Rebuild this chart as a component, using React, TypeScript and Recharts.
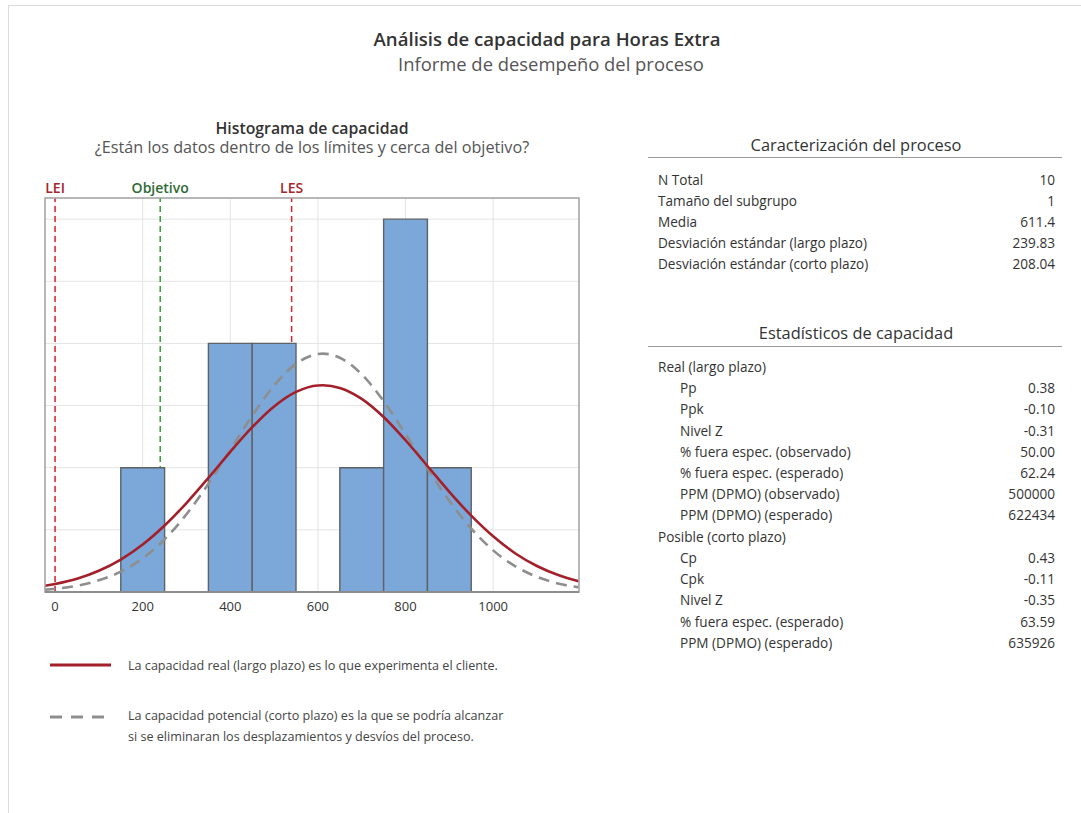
import React from "react";
import {
  ComposedChart,
  Line,
  XAxis,
  YAxis,
  CartesianGrid,
  ReferenceArea,
  ReferenceLine,
} from "recharts";

// ---------- data ----------
const binStarts = [150, 350, 450, 650, 750, 850];
const binEnds = [250, 450, 550, 750, 850, 950];
const binCounts = [1, 2, 2, 1, 3, 1];

const curveX = [
  -25, 0, 50, 100, 150, 200, 250, 300, 350, 400, 450, 500, 550, 600, 611.4,
  650, 700, 750, 800, 850, 900, 950, 1000, 1050, 1100, 1150, 1195,
];
const longTermCurve = [
  0.049, 0.065, 0.107, 0.171, 0.261, 0.382, 0.535, 0.716, 0.918, 1.128, 1.326,
  1.493, 1.61, 1.662, 1.663, 1.642, 1.554, 1.408, 1.221, 1.014, 0.806, 0.614,
  0.448, 0.312, 0.209, 0.134, 0.086,
];
const shortTermCurve = [
  0.018, 0.026, 0.05, 0.094, 0.164, 0.271, 0.424, 0.626, 0.871, 1.144, 1.419,
  1.661, 1.836, 1.915, 1.918, 1.885, 1.751, 1.536, 1.271, 0.993, 0.733, 0.51,
  0.335, 0.208, 0.122, 0.067, 0.038,
];

const xTicks = [0, 200, 400, 600, 800, 1000];
const yTicks = [0.5, 1, 1.5, 2, 2.5, 3];
const X_DOMAIN: [number, number] = [-23, 1196];
const Y_MAX = 3.17;

const specLabels = ["LEI", "Objetivo", "LES"];
const specValues = [0, 240, 540];

const processLabels = [
  "N Total",
  "Tamaño del subgrupo",
  "Media",
  "Desviación estándar (largo plazo)",
  "Desviación estándar (corto plazo)",
];
const processValues = ["10", "1", "611.4", "239.83", "208.04"];

const capLabels = [
  "Real (largo plazo)",
  "Pp",
  "Ppk",
  "Nivel Z",
  "% fuera espec. (observado)",
  "% fuera espec. (esperado)",
  "PPM (DPMO) (observado)",
  "PPM (DPMO) (esperado)",
  "Posible (corto plazo)",
  "Cp",
  "Cpk",
  "Nivel Z",
  "% fuera espec. (esperado)",
  "PPM (DPMO) (esperado)",
];
const capValues = [
  "",
  "0.38",
  "-0.10",
  "-0.31",
  "50.00",
  "62.24",
  "500000",
  "622434",
  "",
  "0.43",
  "-0.11",
  "-0.35",
  "63.59",
  "635926",
];
const capIndent = [false, true, true, true, true, true, true, true, false, true, true, true, true, true];

const curveData = curveX.map((x, i) => ({
  x,
  real: longTermCurve[i],
  potencial: shortTermCurve[i],
}));

const FONT = "'Segoe UI', 'Open Sans', 'Noto Sans', sans-serif";

const Txt = ({
  x,
  cy,
  size,
  color,
  weight = 400,
  align = "left",
  children,
  width,
}: any) => {
  const lh = size * 1.2;
  const style: React.CSSProperties = {
    position: "absolute",
    top: cy - lh / 2,
    lineHeight: `${lh}px`,
    fontSize: size,
    color,
    fontWeight: weight,
    whiteSpace: "nowrap",
  };
  if (align === "center") {
    style.left = x - (width || 600) / 2;
    style.width = width || 600;
    style.textAlign = "center";
  } else if (align === "right") {
    style.left = x - (width || 200);
    style.width = width || 200;
    style.textAlign = "right";
  } else {
    style.left = x;
  }
  return <div style={style}>{children}</div>;
};

const specColor = (i: number) => (i === 1 ? "#33a02c" : "#d8262b");
const specLabelColor = (i: number) => (i === 1 ? "#2e6b34" : "#a3262c");

export default function App() {
  const z = (n: number) => ({ zIndex: n } as any);
  return (
    <div
      style={{
        position: "absolute",
        left: 0,
        top: 0,
        width: 1081,
        height: 813,
        overflow: "hidden",
        background: "#fff",
        fontFamily: FONT,
      }}
    >
      <div
        style={{
          position: "absolute",
          left: 8,
          top: 5,
          width: 1200,
          height: 1000,
          border: "1px solid #dcdcdc",
        }}
      />
      <Txt x={547} cy={39} size={18.6} color="#333" weight={600} align="center">
        Análisis de capacidad para Horas Extra
      </Txt>
      <Txt x={551} cy={64} size={18.4} color="#555" align="center">
        Informe de desempeño del proceso
      </Txt>
      <Txt x={312} cy={128} size={15.8} color="#333" weight={600} align="center">
        Histograma de capacidad
      </Txt>
      <Txt x={312} cy={148} size={16.2} color="#555" align="center">
        ¿Están los datos dentro de los límites y cerca del objetivo?
      </Txt>

      <div style={{ position: "absolute", left: 0, top: 0 }}>
        <ComposedChart
          width={600}
          height={640}
          data={curveData}
          margin={{ top: 198, right: 21, bottom: 18, left: 45 }}
        >
          <CartesianGrid
            stroke="#e4e4e4"
            strokeWidth={1}
            horizontal={false}
            verticalValues={xTicks}
          />
          <XAxis
            dataKey="x"
            type="number"
            domain={X_DOMAIN}
            allowDataOverflow
            ticks={xTicks}
            tickLine={false}
            axisLine={{ stroke: "#8c8c8c", strokeWidth: 2 }}
            tick={{ fontSize: 13, fill: "#333", fontFamily: FONT }}
            tickMargin={4}
          />
          <YAxis
            type="number"
            domain={[0, Y_MAX]}
            allowDataOverflow
            ticks={yTicks}
            tick={false}
            tickLine={false}
            width={0}
            axisLine={{ stroke: "#8c8c8c", strokeWidth: 2 }}
          />
          {yTicks.map((v) => (
            <ReferenceLine
              key={"g" + v}
              y={v}
              stroke="#e4e4e4"
              strokeWidth={1}
              {...z(-90)}
            />
          ))}
          {specValues.map((v, i) => (
            <ReferenceLine
              key={specLabels[i]}
              x={v}
              stroke={specColor(i)}
              strokeWidth={1.5}
              strokeDasharray="6 4"
              {...z(150)}
              label={{
                value: specLabels[i],
                position: "top",
                offset: 5,
                fill: specLabelColor(i),
                fontSize: 14,
                fontWeight: 600,
                fontFamily: FONT,
              }}
            />
          ))}
          {binStarts.map((s, i) => (
            <ReferenceArea
              key={"bin" + i}
              x1={s}
              x2={binEnds[i]}
              y1={0}
              y2={binCounts[i]}
              fill="#7ba7d9"
              fillOpacity={1}
              stroke="#5e6266"
              strokeWidth={1.4}
              {...z(300)}
            />
          ))}
          <Line
            dataKey="potencial"
            type="monotone"
            stroke="#8e8e8e"
            strokeWidth={2.6}
            strokeDasharray="11 7"
            dot={false}
            isAnimationActive={false}
            {...z(400)}
          />
          <Line
            dataKey="real"
            type="monotone"
            stroke="#a3202a"
            strokeWidth={2.6}
            dot={false}
            isAnimationActive={false}
            {...z(410)}
          />
          <ReferenceArea
            x1={X_DOMAIN[0]}
            x2={X_DOMAIN[1]}
            y1={0}
            y2={Y_MAX}
            fill="none"
            stroke="#a0a0a0"
            strokeWidth={1.5}
            {...z(450)}
          />
        </ComposedChart>
      </div>

      {/* legend */}
      <svg
        style={{ position: "absolute", left: 0, top: 0 }}
        width={130}
        height={760}
      >
        <line x1={50} y1={665} x2={111} y2={665} stroke="#a3202a" strokeWidth={3} />
        <line
          x1={50}
          y1={717}
          x2={111}
          y2={717}
          stroke="#8e8e8e"
          strokeWidth={3}
          strokeDasharray="12 9"
        />
      </svg>
      <Txt x={128} cy={666} size={12.6} color="#444">
        La capacidad real (largo plazo) es lo que experimenta el cliente.
      </Txt>
      <Txt x={128} cy={716} size={12.6} color="#444">
        La capacidad potencial (corto plazo) es la que se podría alcanzar
      </Txt>
      <Txt x={128} cy={737} size={12.6} color="#444">
        si se eliminaran los desplazamientos y desvíos del proceso.
      </Txt>

      {/* tables */}
      <Txt x={856} cy={145} size={16.4} color="#333" align="center" width={420}>
        Caracterización del proceso
      </Txt>
      <div
        style={{
          position: "absolute",
          left: 648,
          top: 157,
          width: 414,
          height: 1,
          background: "#9a9a9a",
        }}
      />
      {processLabels.map((l, i) => (
        <React.Fragment key={"p" + i}>
          <Txt x={658} cy={180 + i * 21} size={13.6} color="#333">
            {l}
          </Txt>
          <Txt x={1055} cy={180 + i * 21} size={13.6} color="#333" align="right">
            {processValues[i]}
          </Txt>
        </React.Fragment>
      ))}

      <Txt x={856} cy={333} size={16.4} color="#333" align="center" width={420}>
        Estadísticos de capacidad
      </Txt>
      <div
        style={{
          position: "absolute",
          left: 648,
          top: 346,
          width: 414,
          height: 1,
          background: "#9a9a9a",
        }}
      />
      {capLabels.map((l, i) => (
        <React.Fragment key={"c" + i}>
          <Txt
            x={capIndent[i] ? 680 : 658}
            cy={367 + i * 21.23}
            size={13.6}
            color="#333"
          >
            {l}
          </Txt>
          {capValues[i] ? (
            <Txt x={1055} cy={367 + i * 21.23} size={13.6} color="#333" align="right">
              {capValues[i]}
            </Txt>
          ) : null}
        </React.Fragment>
      ))}
    </div>
  );
}
